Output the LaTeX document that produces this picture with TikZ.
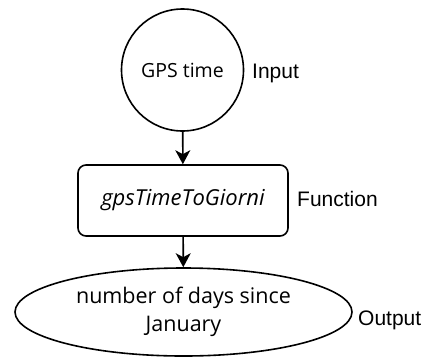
\documentclass[tikz,border=0pt]{standalone}
\usepackage{fontspec}
\setmainfont{Open Sans}
\newfontfamily\labelfont{Liberation Sans}
\usetikzlibrary{shapes.geometric,arrows.meta}
\begin{document}
\begin{tikzpicture}[x=1pt,y=-1pt,
  shape line/.style={draw=black,line width=1.6pt},
  flow/.style={line width=1.6pt,-{Stealth[length=14pt,width=15pt,inset=4pt]}},
  tag/.style={font=\labelfont\fontsize{21}{24}\selectfont,anchor=west,inner sep=0pt}]
\useasboundingbox (0,0) rectangle (427,356);
\node[shape line,circle,minimum size=122pt,inner sep=0pt,
      font=\fontsize{19.5}{23}\selectfont] (input) at (182.5,70) {GPS time};
\node[shape line,rounded corners=8pt,minimum width=210pt,minimum height=71pt,
      font=\itshape\fontsize{22}{26}\selectfont] (func) at (183,200.5) {gpsTimeToGiorni};
\node[shape line,ellipse,minimum width=337pt,minimum height=88pt,inner sep=0pt,
      font=\fontsize{21.5}{28}\selectfont] (output) at (183.5,312)
      {\raisebox{-4pt}{\parbox{215pt}{\centering number of days since\\January}}};
\node[tag] (inlab) at (252,73) {Input};
\node[tag] (funlab) at (297,199) {Function};
\node[tag] (outlab) at (358,320) {Output};
\draw[flow] (input) -- (func);
\draw[flow] (func) -- (output);
\end{tikzpicture}
\end{document}
